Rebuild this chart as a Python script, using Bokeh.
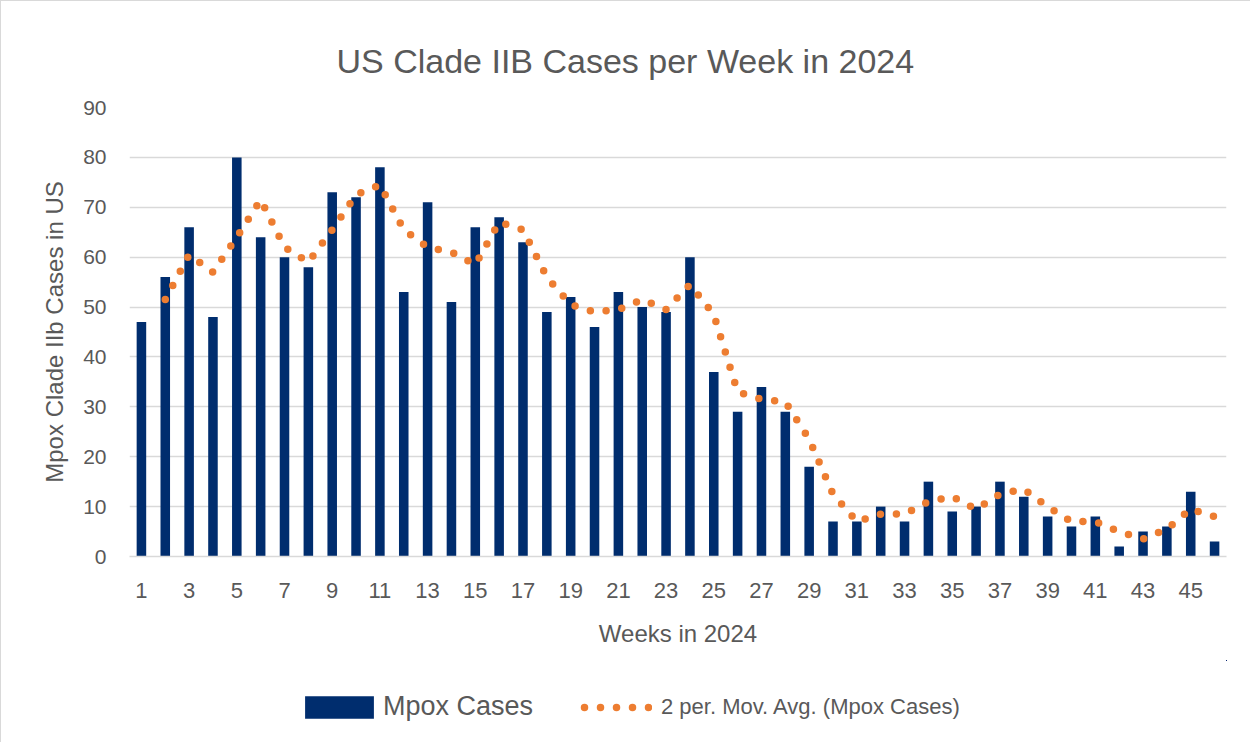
from bokeh.plotting import figure
from bokeh.layouts import column
from bokeh.models import Range1d, FixedTicker, Legend, LegendItem, Title
from bokeh.embed import file_html
from bokeh.resources import INLINE

# ---- data ----
weeks = list(range(1, 47))
cases = [47, 56, 66, 48, 80, 64, 60, 58, 73, 72, 78, 53, 71, 51, 66, 68, 63, 49, 52, 46,
         53, 50, 49, 60, 37, 29, 34, 29, 18, 7, 7, 10, 7, 15, 9, 10, 15, 12, 8, 6,
         8, 2, 5, 6, 13, 3]
ma_weeks = weeks[1:]
ma_values = [51.5, 60.5, 57, 64, 71.5, 62, 59, 65.5, 72.5, 74.5, 65.5, 62, 61, 58.5, 67,
             65.5, 56, 50.5, 49, 49.5, 51.5, 49.5, 54.5, 48.5, 33, 31.5, 31, 23.5, 12.5, 7,
             8.5, 8.5, 11, 12, 9.5, 12.5, 13.5, 10, 7, 7, 5, 3.5, 5.5, 9.5, 8]
x_tick_weeks = [1, 3, 5, 7, 9, 11, 13, 15, 17, 19, 21, 23, 25, 27, 29, 31, 33, 35, 37, 39, 41, 43, 45]
y_ticks = [0, 10, 20, 30, 40, 50, 60, 70, 80, 90]

title_text = "US Clade IIB Cases per Week in 2024"
x_label = "Weeks in 2024"
y_label = "Mpox Clade IIb Cases in US"
bar_label = "Mpox Cases"
ma_label = "2 per. Mov. Avg. (Mpox Cases)"

FONT = "Liberation Sans"
TXT = "#595959"
BAR = "#002D6E"
ORANGE = "#ED7D31"
GRID = "#D9D9D9"

# ---------------- main chart ----------------
p = figure(width=1250, height=660,
           x_range=Range1d(0.5, 46.5), y_range=Range1d(0, 90),
           output_backend="svg", toolbar_location=None,
           min_border_left=128, min_border_right=25,
           min_border_top=106, min_border_bottom=105)
p.styles = {"border-left": "1px solid #D9D9D9", "border-top": "1px solid #D9D9D9"}
p.outline_line_color = None
p.background_fill_color = "white"
p.border_fill_color = "white"

p.add_layout(Title(text=title_text, align="left", offset=207, standoff=55,
                   text_font=FONT, text_font_size="34px", text_font_style="normal",
                   text_color=TXT), "above")

bars = p.vbar(x=weeks, top=cases, width=0.4, fill_color=BAR, line_color=None)
ma = p.line(x=ma_weeks, y=ma_values, line_color=ORANGE, line_width=7.5,
            line_dash="0 16", line_cap="round", line_join="round")

p.xgrid.visible = False
p.ygrid.grid_line_color = GRID
p.ygrid.grid_line_width = 1.3
p.yaxis.ticker = FixedTicker(ticks=y_ticks)
p.xaxis.ticker = FixedTicker(ticks=x_tick_weeks)

for ax in (p.xaxis[0], p.yaxis[0]):
    ax.major_tick_line_color = None
    ax.minor_tick_line_color = None
    ax.major_label_text_font = FONT
    ax.major_label_text_color = TXT
    ax.axis_label_text_font = FONT
    ax.axis_label_text_color = TXT
    ax.axis_label_text_font_style = "normal"

p.yaxis.axis_line_color = None
p.yaxis.major_label_text_font_size = "21px"
p.yaxis.major_label_standoff = 17
p.yaxis.axis_label = y_label
p.yaxis.axis_label_text_font_size = "24px"
p.yaxis.axis_label_standoff = 12

p.xaxis.axis_line_color = GRID
p.xaxis.axis_line_width = 1.3
p.xaxis.major_label_text_font_size = "22px"
p.xaxis.major_label_standoff = 20
p.xaxis.axis_label = x_label
p.xaxis.axis_label_text_font_size = "24px"
p.xaxis.axis_label_standoff = 19

# ---------------- legend strip: same series, ranges keep them out of view ----------------
lg = figure(width=1250, height=82, x_range=Range1d(-20, -10), y_range=Range1d(-20, -10),
            output_backend="svg", toolbar_location=None,
            x_axis_location=None, y_axis_location=None,
            min_border_left=0, min_border_right=0, min_border_top=0, min_border_bottom=0)
lg.styles = {"border-left": "1px solid #D9D9D9"}
lg.outline_line_color = None
lg.grid.visible = False
lg.background_fill_color = "white"
lg.border_fill_color = "white"

bar_key = lg.vbar(x=weeks, top=cases, width=0.4, fill_color=BAR, line_color=None)
ma_key = lg.line(x=ma_weeks, y=ma_values, line_color=ORANGE, line_width=7.5,
                 line_dash="0 16", line_dash_offset=12, line_cap="round")

leg1 = Legend(items=[LegendItem(label=bar_label, renderers=[bar_key])],
              location=(167, 20), orientation="horizontal",
              padding=0, margin=0, spacing=0,
              glyph_width=86, glyph_height=28, label_standoff=1,
              label_text_font=FONT, label_text_font_size="27px", label_text_color=TXT,
              border_line_color=None, background_fill_alpha=0)
leg2 = Legend(items=[LegendItem(label=ma_label, renderers=[ma_key])],
              location=(451, 22), orientation="horizontal",
              padding=0, margin=0, spacing=0,
              glyph_width=72, glyph_height=20, label_standoff=9,
              label_text_font=FONT, label_text_font_size="22px", label_text_color=TXT,
              border_line_color=None, background_fill_alpha=0)
lg.add_layout(leg1, "center")
lg.add_layout(leg2, "center")

layout = column(p, lg, spacing=0)
open("out.html", "w").write(file_html(layout, INLINE))
